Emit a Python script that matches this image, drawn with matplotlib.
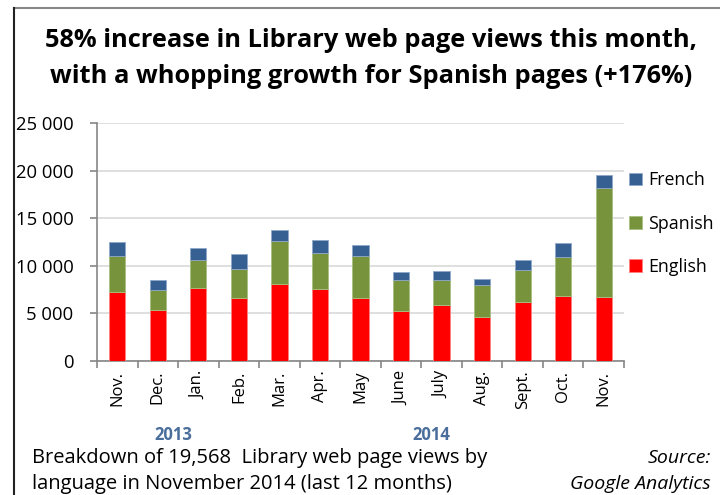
import matplotlib
matplotlib.use("Agg")
import matplotlib.pyplot as plt
from matplotlib.lines import Line2D
import numpy as np

plt.rcParams['font.family'] = ['Open Sans', 'DejaVu Sans']

months = ['Nov.', 'Dec.', 'Jan.', 'Feb.', 'Mar.', 'Apr.', 'May', 'June', 'July',
          'Aug.', 'Sept.', 'Oct.', 'Nov.']
english = [7245, 5355, 7700, 6580, 8050, 7525, 6615, 5215, 5845, 4655, 6160, 6790, 6685]
spanish = [3780, 2100, 2905, 3115, 4550, 3815, 4375, 3290, 2660, 3325, 3395, 4165, 11480]
french = [1470, 1085, 1295, 1505, 1190, 1330, 1155, 875, 945, 595, 1050, 1400, 1400]
yticks = [0, 5000, 10000, 15000, 20000, 25000]
ytick_labels = ['0', '5 000', '10 000', '15 000', '20 000', '25 000']

red = '#FF0000'
green = '#77933C'
blue = '#376092'

W, H = 720, 495


def fx(px):
    return px / W


def fy(py):
    return 1 - py / H


fig = plt.figure(figsize=(7.2, 4.95), dpi=100)
ax = fig.add_axes([fx(97), fy(361), fx(624) - fx(97), fy(123) - fy(361)])

# frame lines (top grey, left black)
fig.add_artist(Line2D([fx(14), 1], [fy(8), fy(8)], color='#888888', lw=1.5))
fig.add_artist(Line2D([fx(14), fx(14)], [fy(8), 0], color='#222222', lw=1.5))

x = np.arange(len(months))
w = 0.4
eng = np.array(english)
spa = np.array(spanish)
fre = np.array(french)
ax.bar(x, eng, w, color=red, edgecolor='#ff8080', linewidth=0.6, label='English', zorder=3)
ax.bar(x, spa, w, bottom=eng, color=green, edgecolor='#a8bf80', linewidth=0.6, label='Spanish', zorder=3)
ax.bar(x, fre, w, bottom=eng + spa, color=blue, edgecolor='#8fa8c8', linewidth=0.6, label='French', zorder=3)

ax.set_xlim(-0.5, len(months) - 0.5)
ax.set_ylim(0, 25000)
ax.set_yticks(yticks)
ax.set_yticklabels(ytick_labels, fontsize=13.3)
ax.yaxis.grid(True, color='#d9d9d9', linewidth=1.2, zorder=0)
ax.set_axisbelow(True)

ax.set_xticks(x)
ax.set_xticklabels(months, rotation=90, fontsize=12)
ax.tick_params(axis='x', length=0, pad=7)
ax.set_xticks(np.arange(-0.5, len(months)), minor=True)
ax.tick_params(axis='x', which='minor', length=5, color='#868686', width=1.2)
ax.tick_params(axis='y', length=5, color='#868686', width=1.2, pad=12)

for s in ['top', 'right']:
    ax.spines[s].set_visible(False)
for s in ['left', 'bottom']:
    ax.spines[s].set_color('#868686')
    ax.spines[s].set_linewidth(1.2)

handles, labels = ax.get_legend_handles_labels()
fig.legend(handles[::-1], labels[::-1], loc='upper left', bbox_to_anchor=(fx(624), fy(166)),
           frameon=False, fontsize=12.8, handlelength=0.7, handleheight=0.7,
           labelspacing=1.42, handletextpad=0.35, borderaxespad=0, borderpad=0.3)

fig.text(fx(371), fy(47), '58% increase in Library web page views this month,',
         ha='center', va='baseline', fontsize=18.3, fontweight='bold')
fig.text(fx(371), fy(83), 'with a whopping growth for Spanish pages (+176%)',
         ha='center', va='baseline', fontsize=18.3, fontweight='bold')

fig.text(fx(173), fy(440), '2013', ha='center', va='baseline', fontsize=12,
         fontweight='bold', color='#4A6E9C')
fig.text(fx(431), fy(440), '2014', ha='center', va='baseline', fontsize=12,
         fontweight='bold', color='#4A6E9C')

fig.text(fx(32), fy(463), 'Breakdown of 19,568  Library web page views by',
         ha='left', va='baseline', fontsize=14.5)
fig.text(fx(32), fy(489), 'language in November 2014 (last 12 months)',
         ha='left', va='baseline', fontsize=14.5)
fig.text(fx(711), fy(463), 'Source:', ha='right', va='baseline', fontsize=14, style='italic')
fig.text(fx(711), fy(489), 'Google Analytics', ha='right', va='baseline', fontsize=14, style='italic')

fig.savefig('out.png', dpi=100)
